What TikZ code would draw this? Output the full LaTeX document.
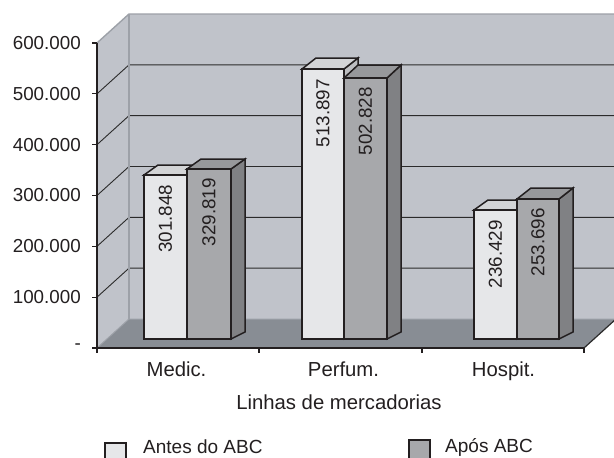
\documentclass[tikz,border=0pt]{standalone}
\usepackage{fontspec}
\setmainfont{Liberation Sans}
\definecolor{wallc}{HTML}{C0C3CA}
\definecolor{floorc}{HTML}{888D94}
\definecolor{edgec}{HTML}{9DA1A8}
\definecolor{inkc}{HTML}{231F20}
\definecolor{gridc}{HTML}{2B2B2B}
\definecolor{antesfront}{HTML}{E6E7E9}
\definecolor{antestop}{HTML}{D3D4D6}
\definecolor{antesside}{HTML}{BDBEC1}
\definecolor{aposfront}{HTML}{A7A8AB}
\definecolor{apostop}{HTML}{97989B}
\definecolor{aposside}{HTML}{808184}
\newcommand\chartbar[7]{%
  \filldraw[barline, fill=#7] (#2,339) -- (#2+14,332) -- (#2+14,#3-#4) -- (#2,#3) -- cycle;
  \filldraw[barline, fill=#6] (#1,#3) -- (#1+14,#3-#4) -- (#2+14,#3-#4) -- (#2,#3) -- cycle;
  \filldraw[barline, fill=#5] (#1,339) rectangle (#2,#3);
}
\begin{document}
\begin{tikzpicture}[x=1pt,y=-1pt,
  barline/.style={draw=inkc, line width=1.5pt, line join=miter},
  gridline/.style={draw=gridc, line width=0.9pt},
  wallborder/.style={draw=edgec, line width=1.4pt},
  axisline/.style={draw=inkc, line width=1.2pt},
  barlabel/.style={rotate=90, anchor=east, inner sep=0pt, text=inkc, font=\fontsize{18.8}{20}\selectfont},
  axlabel/.style={anchor=east, inner sep=0pt, text=inkc, font=\fontsize{18.8}{20}\selectfont},
  catlabel/.style={anchor=base, inner sep=0pt, text=inkc, font=\fontsize{20.3}{22}\selectfont},
  legtext/.style={anchor=base west, inner sep=0pt, text=inkc, font=\fontsize{19}{21}\selectfont},
  legbox/.style={draw=inkc, line width=1.5pt}]
\useasboundingbox (0,0) rectangle (614,458);
\clip (0,0) rectangle (614,458);
\fill[white] (0,0) rectangle (614,458);
% walls
\fill[wallc] (129,14) rectangle (640,319);
\fill[wallc] (97,43) -- (129,14) -- (129,319) -- (97,348) -- cycle;
\fill[floorc] (97,348) -- (584,348) -- (616,319) -- (129,319) -- cycle;
% grid lines
\foreach \v in {1,...,5} {
  \pgfmathsetmacro\yf{348-\v*50.83}
  \draw[gridline] (97,\yf) -- (129,\yf-29) -- (640,\yf-29);
}
% wall borders
\draw[wallborder] (97,43) -- (129,14) -- (640,14);
\draw[wallborder] (129,14) -- (129,319);
\draw[edgec, line width=1pt] (97,348) -- (129,319) -- (616,319);
\draw[gridc, line width=1.2pt] (584,348) -- (616,319);
% axes
\draw[axisline] (97,43) -- (97,353);
\draw[axisline] (97,348) -- (584,348);
\foreach \v in {0,...,6} {
  \pgfmathsetmacro\yf{348-\v*50.83}
  \draw[axisline] (92,\yf) -- (97,\yf);
}
\foreach \x in {259,422,584} { \draw[axisline] (\x,348) -- (\x,353); }
% y labels
\node[axlabel] (y6) at (81,43) {600.000};
\node[axlabel] (y5) at (81,93.8) {500.000};
\node[axlabel] (y4) at (81,144.7) {400.000};
\node[axlabel] (y3) at (81,195.5) {300.000};
\node[axlabel] (y2) at (81,246.3) {200.000};
\node[axlabel] (y1) at (81,297.2) {100.000};
\node[axlabel] (y0) at (81,347) {-};
% bars
\chartbar{144}{187}{175}{10}{antesfront}{antestop}{antesside}
\chartbar{187}{231}{169}{10}{aposfront}{apostop}{aposside}
\chartbar{302}{344}{69}{11}{antesfront}{antestop}{antesside}
\chartbar{344}{387}{78}{13}{aposfront}{apostop}{aposside}
\chartbar{474}{517}{210}{10}{antesfront}{antestop}{antesside}
\chartbar{517}{559}{199}{11}{aposfront}{apostop}{aposside}
% bar labels
\node[barlabel] (b1) at (165.5,184.5) {301.848};
\node[barlabel] (b2) at (209,178) {329.819};
\node[barlabel] (b3) at (323,79) {513.897};
\node[barlabel] (b4) at (365.5,87) {502.828};
\node[barlabel] (b5) at (495.5,220) {236.429};
\node[barlabel] (b6) at (538,208) {253.696};
% category labels
\node[catlabel] (c1) at (176.5,376) {Medic.};
\node[catlabel] (c2) at (343.5,376) {Perfum.};
\node[catlabel] (c3) at (503.5,376) {Hospit.};
\node[catlabel] (title) at (339,409.5) {Linhas de mercadorias};
% legend
\filldraw[legbox, fill=antesfront] (105,443) rectangle (126,464);
\node[legtext] (l1) at (143,453.5) {Antes do ABC};
\filldraw[legbox, fill=aposfront] (409,440) rectangle (430,461);
\node[legtext] (l2) at (445,452.5) {Após ABC};
\end{tikzpicture}
\end{document}
